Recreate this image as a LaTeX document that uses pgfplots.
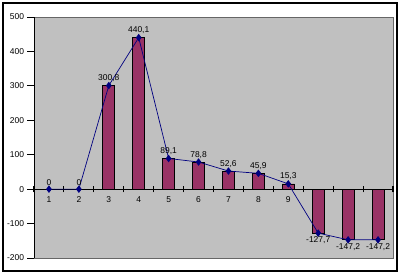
\documentclass[border=0pt]{standalone}
\usepackage{pgfplots}
\pgfplotsset{compat=1.18}
\usepackage{fontspec}
\setmainfont{Liberation Sans}
\definecolor{bg}{RGB}{192,192,192}
\definecolor{barc}{RGB}{153,51,102}
\definecolor{linec}{RGB}{0,0,128}
\begin{document}
\begin{tikzpicture}[x=1bp,y=1bp]
\useasboundingbox (-34,-18) rectangle (367,258);
\draw[line width=1.2bp] (-31,-13) rectangle (363,255);
\begin{axis}[at={(0,0)}, anchor=south west, scale only axis,
  width=359bp, height=241bp,
  xmin=0.5, xmax=12.5, ymin=-200, ymax=500,
  axis background/.style={fill=bg, draw=gray!80!black},
  axis x line=middle, axis y line=left,
  axis line style={-, black, line width=0.8bp},
  hide obscured x ticks=false,
  xtick={0.5,1.5,...,12.5},
  x tick label as interval,
  xticklabels={1,2,3,4,5,6,7,8,9,10,11,12},
  ytick={-200,-100,...,500},
  xtick style={draw=black, line width=1.1bp},
  ytick style={draw=black, line width=0.9bp},
  xtick align=center, ytick align=outside,
  major tick length=6.5bp,
  tick label style={font=\fontsize{8.5}{10}\selectfont},
  xticklabel style={yshift=-1bp},
  /pgf/number format/use comma,
  /pgf/number format/fixed,
  /pgf/number format/precision=1,
  /pgf/number format/assume math mode=true,
  clip=false,
]
\addplot[ybar, bar width=12bp, fill=barc, draw=black, line width=0.7bp]
 coordinates {(1,0) (2,0) (3,300.8) (4,440.1) (5,89.1) (6,78.8) (7,52.6) (8,45.9) (9,15.3) (10,-127.7) (11,-147.2) (12,-147.2)};
\addplot[linec, line width=0.7bp, mark=diamond*, mark size=3.2bp, mark options={fill=linec, solid},
  point meta=y, nodes near coords, nodes near coords align=vertical,
  every node near coord/.append style={black, font=\fontsize{8.5}{10}\selectfont, inner sep=3.5bp}]
 coordinates {(1,0) (2,0) (3,300.8) (4,440.1) (5,89.1) (6,78.8) (7,52.6) (8,45.9) (9,15.3) (10,-127.7) (11,-147.2) (12,-147.2)};
\end{axis}
\end{tikzpicture}
\end{document}
